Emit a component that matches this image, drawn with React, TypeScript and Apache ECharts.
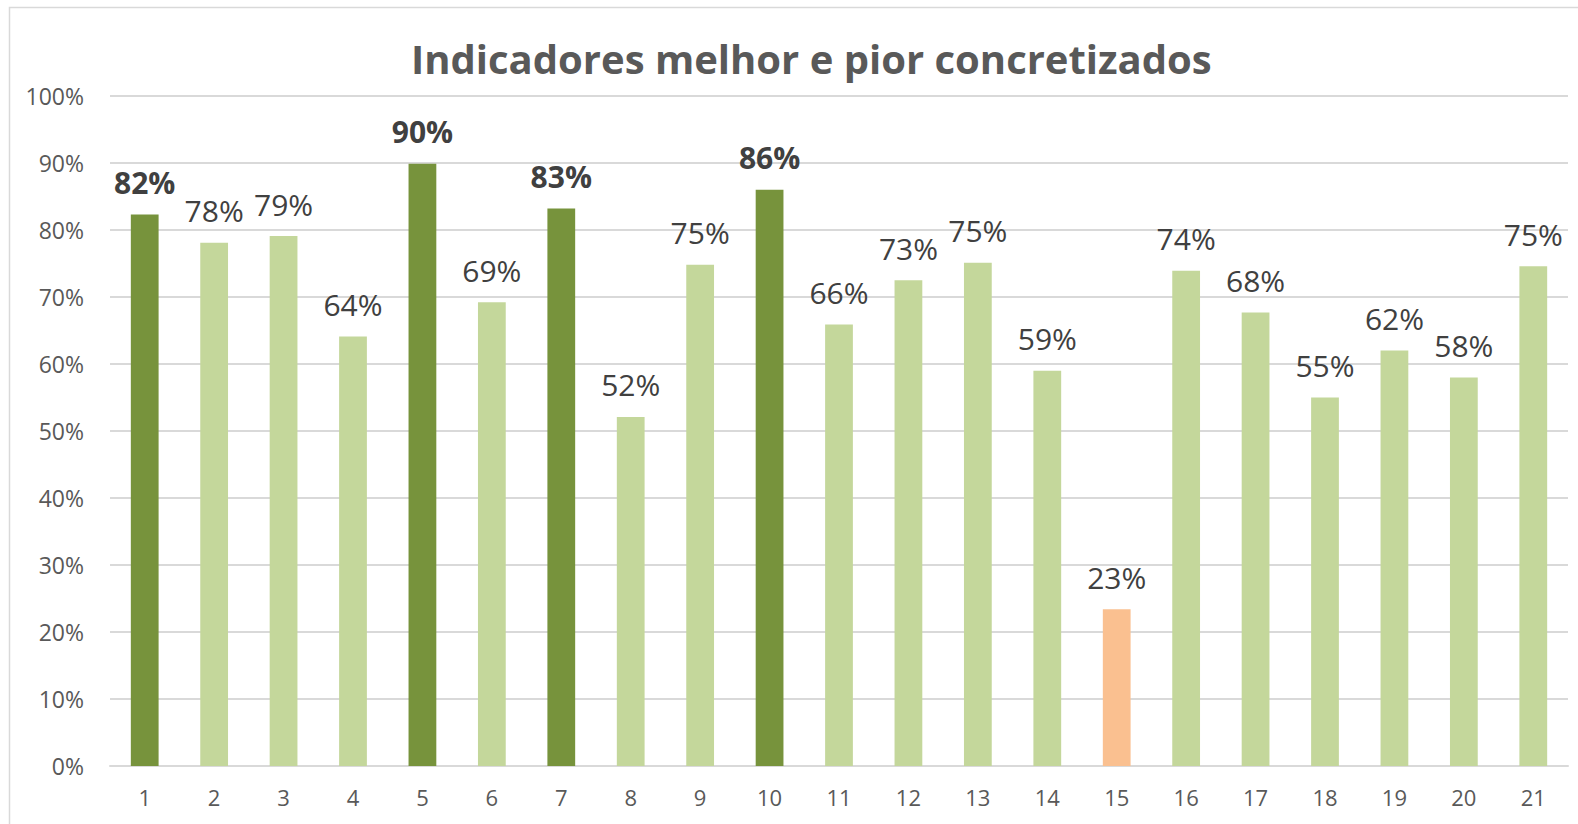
import React, { useEffect, useRef } from "react";
import * as echarts from "echarts";

const TITLE = "Indicadores melhor e pior concretizados";
const categories = ["1","2","3","4","5","6","7","8","9","10","11","12","13","14","15","16","17","18","19","20","21"];
const values = [0.823,0.781,0.791,0.641,0.899,0.692,0.832,0.521,0.748,0.86,0.659,0.725,0.751,0.59,0.234,0.739,0.677,0.55,0.62,0.58,0.746];
// bar category: "best" (dark green), "worst" (orange), "normal"
const kinds = ["best","normal","normal","normal","best","normal","best","normal","normal","best","normal","normal","normal","normal","worst","normal","normal","normal","normal","normal","normal"];
const yTicks = [0, 0.1, 0.2, 0.3, 0.4, 0.5, 0.6, 0.7, 0.8, 0.9, 1.0];

const COLORS: Record<string, string> = { best: "#77933C", normal: "#C4D79B", worst: "#FAC090" };

export default function App() {
  const ref = useRef<HTMLDivElement>(null);
  useEffect(() => {
    if (!ref.current) return;
    const chart = echarts.init(ref.current, null, { renderer: "svg" });
    const font = "'Open Sans', 'Noto Sans', sans-serif";
    chart.setOption({
      animation: false,
      backgroundColor: "#ffffff",
      title: {
        text: TITLE,
        left: 406,
        top: 33,
        textStyle: { fontFamily: font, fontSize: 40, fontWeight: "bold", color: "#595959" },
      },
      graphic: [
        {
          type: "rect",
          shape: { x: 9.5, y: 7.5, width: 1700, height: 1000 },
          style: { fill: "none", stroke: "#d9d9d9", lineWidth: 1.5 },
          silent: true,
          z: -1,
        },
      ],
      grid: { left: 110, right: 10, top: 96, bottom: 58, containLabel: false },
      xAxis: {
        type: "category",
        data: categories,
        axisLine: { lineStyle: { color: "#d9d9d9", width: 2 } },
        axisTick: { show: false },
        axisLabel: { fontFamily: font, fontSize: 22, color: "#595959", margin: 20 },
      },
      yAxis: {
        type: "value",
        min: yTicks[0],
        max: yTicks[yTicks.length - 1],
        interval: 0.1,
        splitLine: { lineStyle: { color: "#d9d9d9", width: 2 } },
        axisLine: { show: false },
        axisTick: { show: false },
        axisLabel: {
          fontFamily: font,
          fontSize: 23,
          color: "#595959",
          margin: 26,
          formatter: (v: number) => Math.round(v * 100) + "%",
        },
      },
      series: [
        {
          type: "bar",
          barWidth: "40%",
          data: values.map((v, i) => ({
            value: v,
            itemStyle: { color: COLORS[kinds[i]] },
            label: { fontWeight: kinds[i] === "best" ? "bold" : "normal" },
          })),
          label: {
            show: true,
            position: "top",
            distance: 17,
            fontFamily: font,
            fontSize: 30,
            color: "#404040",
            formatter: (p: any) => Math.round(p.value * 100) + "%",
          },
        },
      ],
    });
    return () => chart.dispose();
  }, []);
  return <div ref={ref} style={{ position: "absolute", left: 0, top: 0, width: 1578, height: 824 }} />;
}
